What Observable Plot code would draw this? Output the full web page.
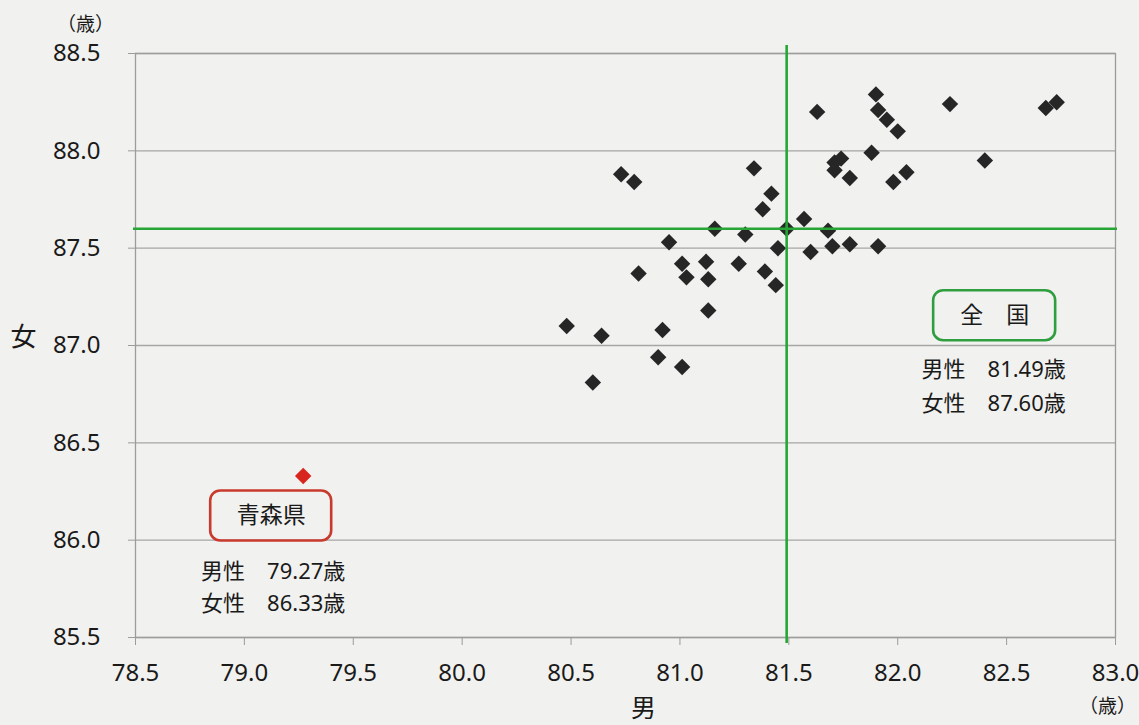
<!DOCTYPE html>
<html><head><meta charset="utf-8">
<script src="https://cdn.jsdelivr.net/npm/d3@7"></script>
<script src="https://cdn.jsdelivr.net/npm/@observablehq/plot@0.6"></script>
<style>
html,body{margin:0;padding:0;background:#f1f1ef;}
#chart svg{display:block;}
</style>
</head><body><div id="chart"></div>
<script>
// 都道府県別 平均寿命（男 = x, 女 = y）
const maleLife = [
  81.63, 81.90, 81.91, 81.95, 82.00, 82.24, 82.68, 82.73, 81.88, 81.74, 81.71, 81.71,
  81.78, 82.40, 82.04, 81.98, 81.57, 81.49, 81.68, 81.60, 81.70, 81.78, 81.91,
  80.73, 80.79, 81.34, 81.42, 81.38, 81.16, 81.30, 80.95, 81.45, 81.12, 81.27, 81.01,
  81.03, 81.13, 80.81, 81.39, 81.44, 81.13, 80.48, 80.64, 80.92, 80.60, 80.90, 81.01
];
const femaleLife = [
  88.20, 88.29, 88.21, 88.16, 88.10, 88.24, 88.22, 88.25, 87.99, 87.96, 87.94, 87.90,
  87.86, 87.95, 87.89, 87.84, 87.65, 87.60, 87.59, 87.48, 87.51, 87.52, 87.51,
  87.88, 87.84, 87.91, 87.78, 87.70, 87.60, 87.57, 87.53, 87.50, 87.43, 87.42, 87.42,
  87.35, 87.34, 87.37, 87.38, 87.31, 87.18, 87.10, 87.05, 87.08, 86.81, 86.94, 86.89
];
const highlightName = ["青森県"];
const highlightMale = [79.27];
const highlightFemale = [86.33];
const nationalName = ["全　国"];
const nationalMale = [81.49];
const nationalFemale = [87.60];
const xTicks = [78.5, 79.0, 79.5, 80.0, 80.5, 81.0, 81.5, 82.0, 82.5, 83.0];
const yTicks = [85.5, 86.0, 86.5, 87.0, 87.5, 88.0, 88.5];
const unitLabel = "（歳）";
const xLabel = "男";
const yLabel = "女";

const font = "'Noto Sans', 'Noto Sans CJK JP', sans-serif";
const points = maleLife.map((m, i) => ({male: m, female: femaleLife[i]}));
const highlight = highlightMale.map((m, i) => ({name: highlightName[i], male: m, female: highlightFemale[i]}));
const national = nationalMale.map((m, i) => ({name: nationalName[i], male: m, female: nationalFemale[i]}));
const fmt = d3.format(".2f");

function boxMark(data, dx, dy, w, h, color) {
  return (index, scales) => {
    const g = d3.create("svg:g");
    for (const d of data) {
      const cx = scales.x(d.male) + dx, cy = scales.y(d.female) + dy;
      g.append("rect")
        .attr("x", cx - w / 2).attr("y", cy - h / 2)
        .attr("width", w).attr("height", h)
        .attr("rx", 10).attr("ry", 10)
        .attr("fill", "none").attr("stroke", color).attr("stroke-width", 2.6);
    }
    return g.node();
  };
}

const annText = {fontSize: 22, fill: "#1a1a1a", textAnchor: "middle", lineAnchor: "middle"};

const chart = Plot.plot({
  width: 1139, height: 725,
  marginLeft: 135, marginRight: 24, marginTop: 53, marginBottom: 88,
  style: {background: "transparent", fontFamily: font, fontSize: "24px", color: "#1a1a1a", overflow: "visible"},
  x: {domain: [78.5, 83.0], label: null},
  y: {domain: [85.5, 88.5], label: null},
  marks: [
    Plot.gridY(yTicks, {stroke: "#a6a6a6", strokeOpacity: 1, strokeWidth: 1.3}),
    Plot.frame({stroke: "#9c9c9c", strokeWidth: 1.3}),
    Plot.axisY(yTicks, {tickSize: 7, tickPadding: 28, tickFormat: d3.format(".1f"), stroke: "#9c9c9c", fill: "#1a1a1a", fontSize: 24, label: null}),
    Plot.axisX(xTicks, {tickSize: 8, tickPadding: 18, tickFormat: d3.format(".1f"), stroke: "#9c9c9c", fill: "#1a1a1a", fontSize: 24, label: null}),
    Plot.dot(points, {x: "male", y: "female", symbol: "diamond2", r: 7.4, fill: "#262626", stroke: "none"}),
    Plot.dot(highlight, {x: "male", y: "female", symbol: "diamond2", r: 7.4, fill: "#d8261f", stroke: "none"}),
    Plot.ruleX(national, {x: "male", stroke: "#27a636", strokeWidth: 2.6, insetTop: -8, insetBottom: -6}),
    Plot.ruleY(national, {y: "female", stroke: "#27a636", strokeWidth: 2.6, insetLeft: -2, insetRight: -2}),
    // 全国 annotation
    boxMark(national, 208, 87, 122, 50, "#2e9e3e"),
    Plot.text(national, {x: "male", y: "female", text: "name", dx: 208, dy: 87, ...annText, fontSize: 23}),
    Plot.text(national, {x: "male", y: "female", text: d => `男性　${fmt(d.male)}歳`, dx: 207, dy: 141, ...annText}),
    Plot.text(national, {x: "male", y: "female", text: d => `女性　${fmt(d.female)}歳`, dx: 207, dy: 175, ...annText}),
    // 青森県 annotation
    boxMark(highlight, -32, 40, 121, 50, "#c93a2e"),
    Plot.text(highlight, {x: "male", y: "female", text: "name", dx: -32, dy: 40, ...annText, fontSize: 23}),
    Plot.text(highlight, {x: "male", y: "female", text: d => `男性　${fmt(d.male)}歳`, dx: -30, dy: 96, ...annText}),
    Plot.text(highlight, {x: "male", y: "female", text: d => `女性　${fmt(d.female)}歳`, dx: -30, dy: 128, ...annText}),
    // units and axis labels
    Plot.text([unitLabel], {frameAnchor: "top-left", text: d => d, dx: -50, dy: -29, fontSize: 19, fill: "#1a1a1a", textAnchor: "middle", lineAnchor: "middle"}),
    Plot.text([unitLabel], {frameAnchor: "bottom-right", text: d => d, dx: -8, dy: 69, fontSize: 19, fill: "#1a1a1a", textAnchor: "middle", lineAnchor: "middle"}),
    Plot.text([yLabel], {frameAnchor: "left", text: d => d, dx: -112, dy: -8, fontSize: 26, fill: "#1a1a1a", textAnchor: "middle", lineAnchor: "middle"}),
    Plot.text([xLabel], {frameAnchor: "bottom", text: d => d, dx: 18, dy: 71, fontSize: 25, fill: "#1a1a1a", textAnchor: "middle", lineAnchor: "middle"})
  ]
});
document.getElementById("chart").appendChild(chart);
</script>
</body></html>
